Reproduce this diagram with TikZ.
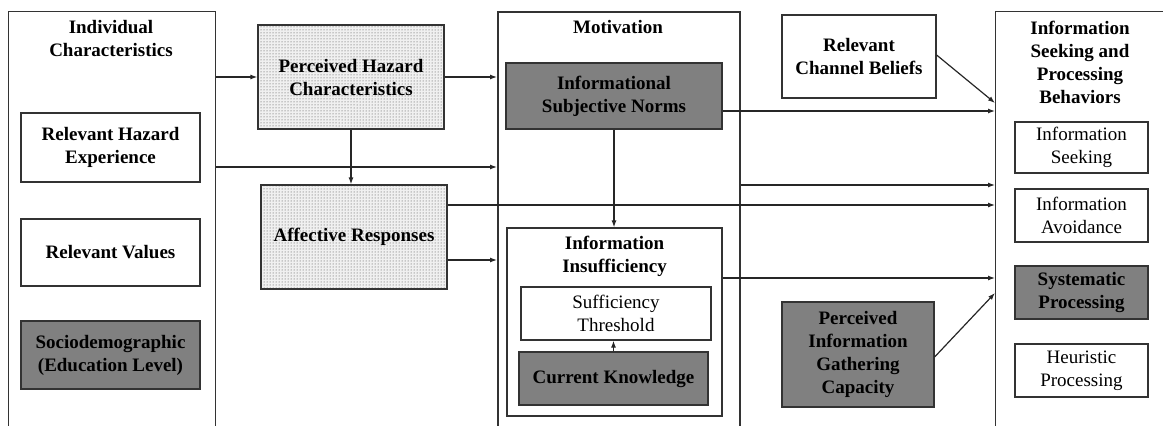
\documentclass[tikz,border=0pt]{standalone}
\usepackage{fontspec}
\setmainfont{Liberation Serif}
\usetikzlibrary{patterns,arrows.meta}
\tikzset{
  box/.style={draw=black!80, line width=1.2pt, align=center, inner sep=2pt,
    font=\bfseries\fontsize{19}{23}\selectfont},
  plainbox/.style={box, font=\fontsize{19}{23}\selectfont},
  darkbox/.style={box, fill=gray},
  dotbox/.style={box, preaction={fill=black!6}, pattern=dots, pattern color=black!75},
  group/.style={draw=black!80, line width=1.2pt, anchor=north west, minimum height=440pt},
  title/.style={align=center, font=\bfseries\fontsize{19}{23}\selectfont},
  link/.style={-{Latex[length=7pt,width=5pt]}, line width=1.2pt, draw=black!85},
}
\begin{document}
\begin{tikzpicture}[x=1pt, y=-1pt]
    \useasboundingbox (0,0) rectangle (1163,426);
    % outer groups
    \node[group, minimum width=207pt] (indiv) at (8,11) {};
    \node[group, line width=2.4pt, minimum width=242pt] (motiv) at (497,11) {};
    \node[group, minimum width=220pt] (behav) at (995,11) {};
    \node[title] (indivtitle) at (111,38) {Individual\\Characteristics};
    \node[title] (motivtitle) at (618,27) {Motivation};
    \node[title] (behavtitle) at (1080,62) {Information\\Seeking and\\Processing\\Behaviors};
    % left column
    \node[box, minimum width=179pt, minimum height=69pt] (rhe) at (110.5,147.5) {Relevant Hazard\\Experience};
    \node[box, minimum width=179pt, minimum height=67pt] (rv) at (110.5,252.5) {Relevant Values};
    \node[darkbox, minimum width=179pt, minimum height=68pt] (socio) at (110.5,355) {Sociodemographic\\(Education Level)};
    % perceptions
    \node[dotbox, minimum width=186pt, minimum height=104pt] (phc) at (351,77) {Perceived Hazard\\Characteristics};
    \node[dotbox, minimum width=186pt, minimum height=104pt] (aff) at (354,237) {Affective Responses};
    % motivation
    \node[darkbox, minimum width=216pt, minimum height=66pt] (isn) at (614,96) {Informational\\Subjective Norms};
    \node[box, minimum width=215pt, minimum height=188pt] (insuf) at (614.5,322) {};
    \node[title] (insuftitle) at (614.5,256) {Information\\Insufficiency};
    \node[plainbox, minimum width=190pt, minimum height=53pt] (st) at (616,313.5) {Sufficiency\\Threshold};
    \node[darkbox, minimum width=189pt, minimum height=53pt] (ck) at (613.5,378.5) {Current Knowledge};
    % channel and capacity
    \node[box, minimum width=154pt, minimum height=83pt] (rcb) at (859,56.5) {Relevant\\Channel Beliefs};
    \node[darkbox, minimum width=152pt, minimum height=105pt] (pigc) at (858,354.5) {Perceived\\Information\\Gathering\\Capacity};
    % behaviors
    \node[plainbox, minimum width=133pt, minimum height=51pt] (iseek) at (1081.5,147.5) {Information\\Seeking};
    \node[plainbox, minimum width=133pt, minimum height=53pt] (iavoid) at (1081.5,215.5) {Information\\Avoidance};
    \node[darkbox, minimum width=133pt, minimum height=53pt] (sysp) at (1081.5,292.5) {Systematic\\Processing};
    \node[plainbox, minimum width=133pt, minimum height=53pt] (heur) at (1081.5,370.5) {Heuristic\\Processing};
    % connectors
    \draw[link] (indiv.east |- phc.west) -- (phc.west);
    \draw[link] (phc.east) -- (motiv.west |- phc.east);
    \draw[link] (indiv.east |- 0,167) -- (motiv.west |- 0,167);
    \draw[link] (phc.south) -- (phc.south |- aff.north);
    \draw[link] (aff.east |- 0,205) -- (behav.west |- 0,205);
    \draw[link] (aff.east |- 0,260) -- (motiv.west |- 0,260);
    \draw[link] (isn.south) -- (isn.south |- insuf.north);
    \draw[link] (ck.north) -- (ck.north |- st.south);
    \draw[link] (isn.east |- 0,111) -- (behav.west |- 0,111);
    \draw[link] (motiv.east |- 0,185) -- (behav.west |- 0,185);
    \draw[link] (insuf.east |- 0,278) -- (behav.west |- 0,278);
    \draw[link] (rcb.east |- 0,55) -- (behav.west |- 0,103);
    \draw[link] (pigc.east |- 0,357) -- (behav.west |- 0,293);
\end{tikzpicture}
\end{document}
